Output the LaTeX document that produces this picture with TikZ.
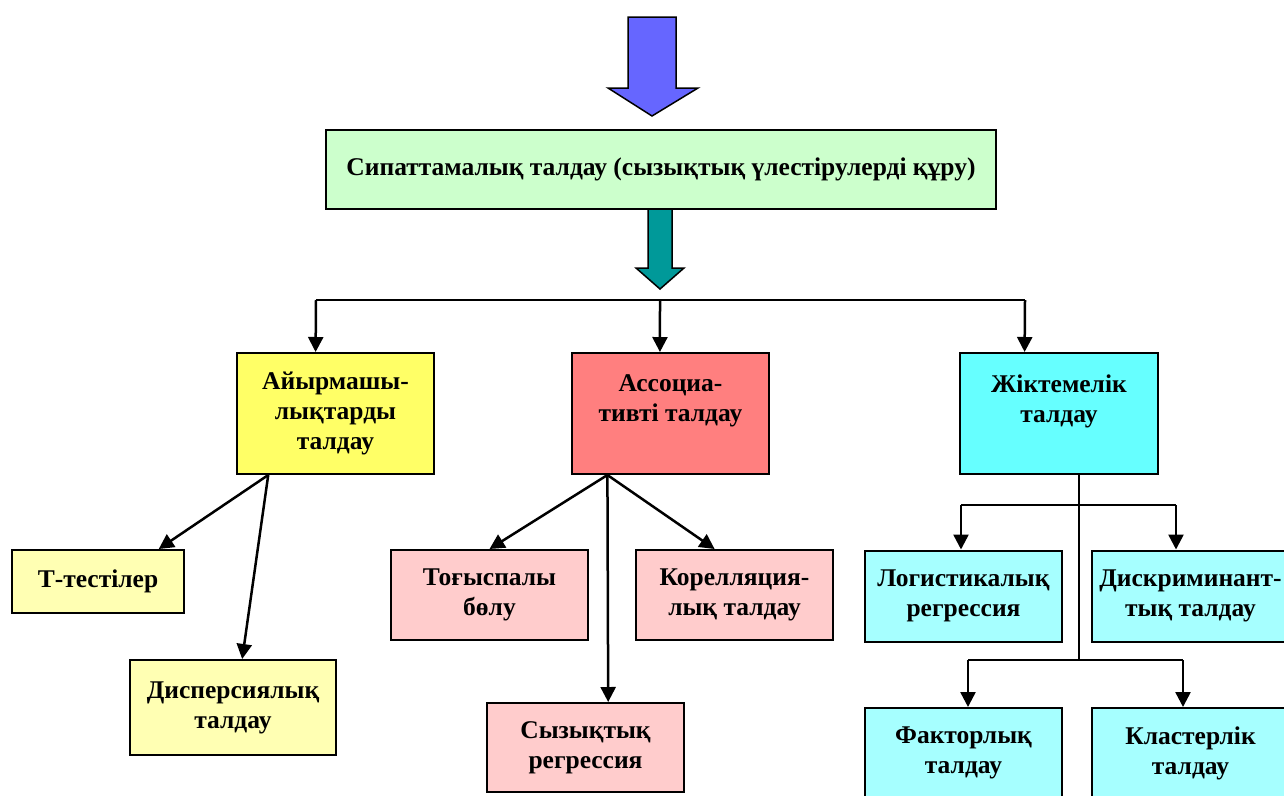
\documentclass[tikz,border=0pt]{standalone}
\usepackage{fontspec}
\setmainfont{Liberation Serif}
\usetikzlibrary{arrows.meta,calc}
\definecolor{topgreen}{HTML}{CCFFCC}
\definecolor{bigblue}{HTML}{6666FF}
\definecolor{teal2}{HTML}{009999}
\definecolor{yel}{HTML}{FFFF66}
\definecolor{yellight}{HTML}{FFFFB3}
\definecolor{redbox}{HTML}{FF7F7F}
\definecolor{redlight}{HTML}{FFCCCC}
\definecolor{cyanbox}{HTML}{66FFFF}
\definecolor{cyanlight}{HTML}{A6FFFF}
\begin{document}
\begin{tikzpicture}[x=1pt,y=-1pt,
  box/.style={draw=black,line width=2pt,align=center,inner sep=0pt,
    font=\fontsize{25.5}{30}\selectfont\bfseries},
  conn/.style={line width=2.5pt,-{Triangle[width=15pt,length=15pt]}},
  plain/.style={line width=2.5pt}]
\useasboundingbox (0,0) rectangle (1284,795);
\fill[white] (0,0) rectangle (1284,795);
% big arrows
\draw[line width=1.5pt,fill=bigblue] (628,17) -- (676,17) -- (676,88) -- (698,88) -- (652,116) -- (608,88) -- (628,88) -- cycle;
\node[box,fill=topgreen,minimum width=670pt,minimum height=79pt] (top) at (661,169.5) {Сипаттамалық талдау (сызықтық үлестірулерді құру)};
\draw[line width=1.5pt,fill=teal2] (648,209) -- (672,209) -- (672,268) -- (684,268) -- (660,289) -- (636,268) -- (648,268) -- cycle;
% level 1
\node[box,fill=yel,minimum width=197pt,minimum height=121pt] (ayr) at (335.5,413.5) {Айырмашы-\\лықтарды\\талдау};
\node[box,fill=redbox,minimum width=197pt,minimum height=121pt] (ass) at (670.5,413.5) {Ассоциа-\\тивті талдау\\\mbox{}};
\node[box,fill=cyanbox,minimum width=198pt,minimum height=121pt] (zhik) at (1059,413.5) {Жіктемелік\\талдау\\\mbox{}};
% level 2
\node[box,fill=yellight,minimum width=172pt,minimum height=63pt] (ttest) at (98,581.5) {Т-тестілер};
\node[box,fill=yellight,minimum width=206pt,minimum height=95pt] (disp) at (233,707.5) {Дисперсиялық\\талдау};
\node[box,fill=redlight,minimum width=197pt,minimum height=90pt] (togys) at (489.5,595) {Тоғыспалы\\бөлу};
\node[box,fill=redlight,minimum width=197pt,minimum height=90pt] (kor) at (734.5,595) {Корелляция-\\лық талдау};
\node[box,fill=redlight,minimum width=197pt,minimum height=89pt] (syz) at (585.5,747.5) {Сызықтық\\регрессия};
\node[box,fill=cyanlight,minimum width=197pt,minimum height=91pt] (logi) at (963.5,596) {Логистикалық\\регрессия};
\node[box,fill=cyanlight,minimum width=197pt,minimum height=91pt] (disk) at (1190.5,596) {Дискриминант-\\тық талдау};
\node[box,fill=cyanlight,minimum width=197pt,minimum height=90pt] (fakt) at (963.5,753) {Факторлық\\талдау};
\node[box,fill=cyanlight,minimum width=197pt,minimum height=90pt] (klas) at (1190.5,753) {Кластерлік\\талдау};
% top distribution
\coordinate (hl) at (316,300);
\coordinate (hr) at (1025,300);
\draw[plain] (hl) -- (hr);
\draw[conn] (hl) -- ($(ayr.north west)!0.40!(ayr.north east)$);
\draw[conn] (660,300) -- ($(ass.north west)!0.447!(ass.north east)$);
\draw[conn] (hr) -- ($(zhik.north west)!0.328!(zhik.north east)$);
% yellow children
\coordinate (ys) at ($(ayr.south west)!0.162!(ayr.south east)$);
\draw[conn] (ys) -- ($(ttest.north west)!0.849!(ttest.north east)$);
\draw[conn] (ys) -- ($(disp.north west)!0.544!(disp.north east)$);
% red children
\coordinate (rs) at ($(ass.south west)!0.183!(ass.south east)$);
\draw[conn] (rs) -- (togys.north);
\draw[conn] (rs) -- ($(kor.north west)!0.40!(kor.north east)$);
\draw[conn] (rs) -- ($(syz.north west)!0.614!(syz.north east)$);
% cyan children
\coordinate (cs) at ($(zhik.south west)!0.6!(zhik.south east)$);
\coordinate (cm) at (cs |- 0,660);
\draw[plain] (cs) -- (cm);
\coordinate (u1) at (961,505);
\coordinate (u2) at (1176,505);
\draw[plain] (u1) -- (u2);
\draw[conn] (u1) -- (logi.north -| u1);
\draw[conn] (u2) -- (disk.north -| u2);
\coordinate (l1) at (968,660);
\coordinate (l2) at (1183,660);
\draw[plain] (l1) -- (l2);
\draw[conn] (l1) -- (fakt.north -| l1);
\draw[conn] (l2) -- (klas.north -| l2);
\end{tikzpicture}
\end{document}
